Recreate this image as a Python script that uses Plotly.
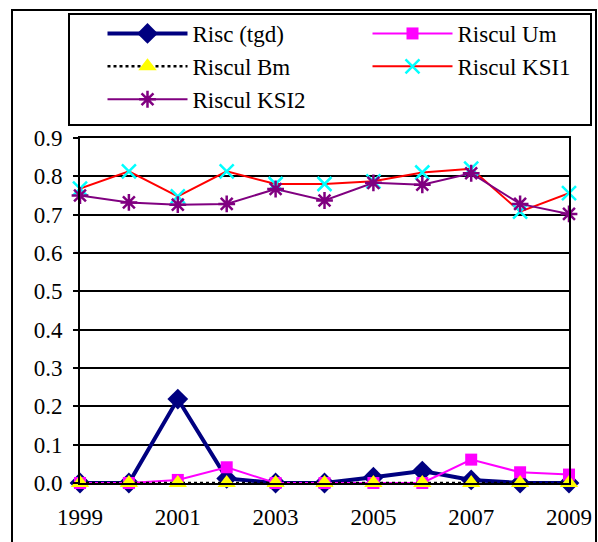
import plotly.graph_objects as go

years = [1999, 2000, 2001, 2002, 2003, 2004, 2005, 2006, 2007, 2008, 2009]
risc_tgd = [0.0, 0.0, 0.219, 0.012, 0.0, 0.0, 0.015, 0.031, 0.008, 0.0, 0.0]
riscul_um = [0.0, 0.0, 0.008, 0.041, 0.0, 0.0, 0.0, 0.0, 0.061, 0.028, 0.022]
riscul_bm = [0.0, 0.0, 0.0, 0.0, 0.0, 0.0, 0.0, 0.0, 0.0, 0.0, 0.0]
riscul_ksi1 = [0.768, 0.813, 0.748, 0.813, 0.780, 0.780, 0.787, 0.810, 0.820, 0.708, 0.756]
riscul_ksi2 = [0.750, 0.732, 0.726, 0.728, 0.767, 0.737, 0.783, 0.778, 0.808, 0.728, 0.702]

FONT = "Liberation Serif"

fig = go.Figure()
fig.add_trace(go.Scatter(
    x=years, y=risc_tgd, name="Risc (tgd)", mode="lines+markers",
    line=dict(color="#000080", width=4),
    marker=dict(symbol="diamond", size=16, color="#000080"),
    cliponaxis=False))
fig.add_trace(go.Scatter(
    x=years, y=riscul_um, name="Riscul Um", mode="lines+markers",
    line=dict(color="#FF00FF", width=2),
    marker=dict(symbol="square", size=12, color="#FF00FF"),
    cliponaxis=False))
fig.add_trace(go.Scatter(
    x=years, y=riscul_bm, name="Riscul Bm", mode="lines+markers",
    line=dict(color="black", width=2.5, dash="dot"),
    marker=dict(symbol="triangle-up", size=16, color="#FFFF00"),
    cliponaxis=False))
fig.add_trace(go.Scatter(
    x=years, y=riscul_ksi1, name="Riscul KSI1", mode="lines+markers",
    line=dict(color="#FF0000", width=2),
    marker=dict(symbol="x-thin", size=14, line=dict(color="#00FFFF", width=2.5)),
    cliponaxis=False))
fig.add_trace(go.Scatter(
    x=years, y=riscul_ksi2, name="Riscul KSI2", mode="lines+markers",
    line=dict(color="#800080", width=2),
    marker=dict(symbol="asterisk", size=14, line=dict(color="#800080", width=2.5)),
    cliponaxis=False))

PL, PR, PT, PB = 80, 569, 138, 483
W, H = 598, 542

def px2paper_x(px):
    return (px - PL) / (PR - PL)

def px2paper_y(py):
    return (PB - py) / (PB - PT)

# outer chart frame
fig.add_shape(type="rect", xref="paper", yref="paper",
              x0=px2paper_x(12), x1=px2paper_x(596),
              y0=px2paper_y(548), y1=px2paper_y(10),
              line=dict(color="black", width=2), layer="below")
# legend frame
fig.add_shape(type="rect", xref="paper", yref="paper",
              x0=px2paper_x(69), x1=px2paper_x(591),
              y0=px2paper_y(125), y1=px2paper_y(14),
              line=dict(color="black", width=2), fillcolor="white", layer="below")

fig.update_layout(
    width=W, height=H,
    margin=dict(l=PL, r=W - PR, t=PT, b=H - PB, pad=0, autoexpand=False),
    paper_bgcolor="white", plot_bgcolor="white",
    font=dict(family=FONT, size=22, color="black"),
    showlegend=True,
    legend=dict(
        orientation="h", x=px2paper_x(65), y=px2paper_y(12),
        xanchor="left", yanchor="top",
        borderwidth=0, bgcolor="rgba(0,0,0,0)",
        font=dict(family=FONT, size=23, color="black"),
        title=dict(text="\u00a0" * 5, side="left",
                   font=dict(family=FONT, size=22)),
        entrywidth=170, entrywidthmode="pixels", itemwidth=80,
        traceorder="normal",
    ),
    xaxis=dict(
        range=[1999, 2009], tickmode="linear", tick0=1999, dtick=2,
        showgrid=False, zeroline=False, showline=True, linecolor="black",
        linewidth=2, mirror=True, ticks="", ticklabelstandoff=12,
        tickfont=dict(family=FONT, size=23, color="black"),
    ),
    yaxis=dict(
        range=[0, 0.9], tickmode="linear", tick0=0, dtick=0.1,
        tickformat=".1f", showgrid=True, gridcolor="black", gridwidth=2,
        zeroline=False, showline=True, linecolor="black", linewidth=2,
        mirror=True, ticks="outside", ticklen=5, tickwidth=2, tickcolor="black",
        ticklabelstandoff=6,
        tickfont=dict(family=FONT, size=23, color="black"),
    ),
)

fig.write_html("out.html")
